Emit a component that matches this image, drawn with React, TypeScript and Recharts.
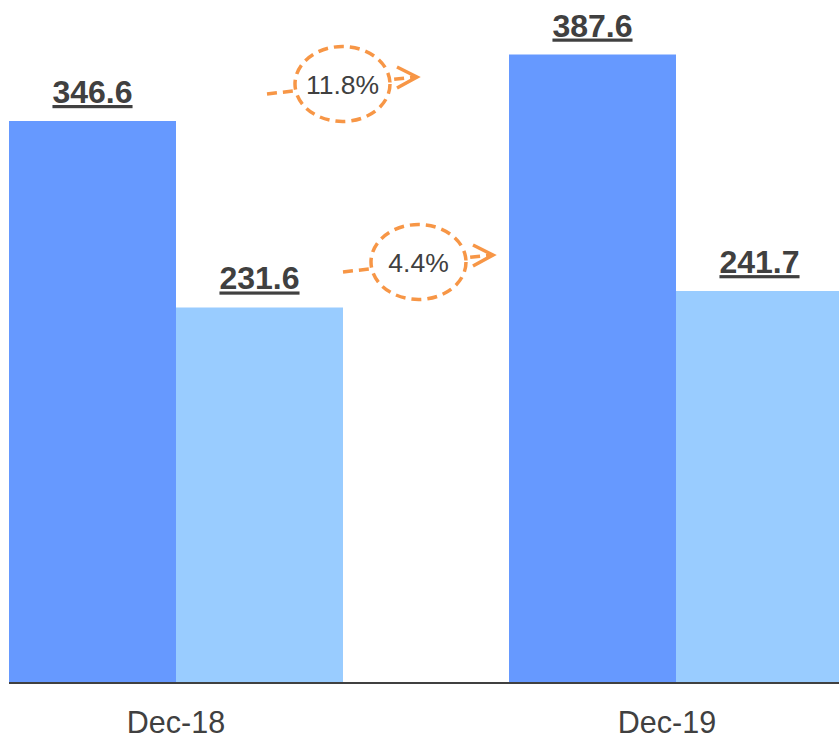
import React from 'react';
import { BarChart, Bar, XAxis, YAxis, LabelList } from 'recharts';

const categories = ['Dec-18', 'Dec-19'];
const seriesA = [346.6, 387.6];
const seriesB = [231.6, 241.7];
const growthLabels = ['11.8%', '4.4%'];

const data = categories.map((c, i) => ({ name: c, a: seriesA[i], b: seriesB[i] }));

const FONT = 'Arial, "Liberation Sans", sans-serif';
const TEXT = '#404040';
const ORANGE = '#F79646';

const ValueLabel = (props: any) => {
  const { x, y, width, value } = props;
  return (
    <text
      x={x + width / 2}
      y={y - 18}
      textAnchor="middle"
      fontFamily={FONT}
      fontSize={32}
      fontWeight="bold"
      fill={TEXT}
      style={{ textDecoration: 'underline' }}
    >
      {value}
    </text>
  );
};

const Tick = (props: any) => {
  const { x, y, payload, index } = props;
  const dx = index === categories.length - 1 ? -9 : 0;
  return (
    <text x={x + dx} y={y + 50} textAnchor="middle" fontFamily={FONT} fontSize={30.5} fill={TEXT}>
      {payload.value}
    </text>
  );
};

const GrowthArrow = ({ x, y, label }: { x: number; y: number; label: string }) => {
  const len = 150;
  const rise = -17;
  const tipX = x + len;
  const tipY = y + rise;
  const cx = x + 75.5;
  const cy = y - 10;
  return (
    <g>
      <line x1={x} y1={y} x2={tipX - 3} y2={tipY} stroke={ORANGE} strokeWidth={3.5} strokeDasharray="10 6" />
      <polyline
        points={`${tipX - 20},${tipY - 10} ${tipX},${tipY} ${tipX - 20},${tipY + 11}`}
        fill="none"
        stroke={ORANGE}
        strokeWidth={3.5}
        strokeLinejoin="miter"
      />
      <ellipse cx={cx} cy={cy} rx={47.5} ry={37.5} fill="#fff" stroke={ORANGE} strokeWidth={3.5} strokeDasharray="10 6" />
      <text x={cx} y={cy + 9.5} textAnchor="middle" fontFamily={FONT} fontSize={26.5} fill={TEXT}>
        {label}
      </text>
    </g>
  );
};

export default function App() {
  return (
    <div style={{ position: 'absolute', left: 0, top: 0, width: 839, height: 740, overflow: 'hidden', background: '#fff' }}>
      <BarChart
        width={926}
        height={740}
        data={data}
        margin={{ top: 2, right: 0, bottom: 0, left: 9 }}
        barCategoryGap="16.6%"
        barGap={0}
      >
        <XAxis
          dataKey="name"
          padding={{ left: -83, right: 0 }}
          axisLine={{ stroke: TEXT, strokeWidth: 2 }}
          tickLine={false}
          tickSize={0}
          tickMargin={0}
          height={57}
          tick={<Tick />}
          interval={0}
        />
        <YAxis hide domain={[0, 420]} />
        <Bar dataKey="a" fill="#6699FF" isAnimationActive={false}>
          <LabelList dataKey="a" content={<ValueLabel />} />
        </Bar>
        <Bar dataKey="b" fill="#99CCFF" isAnimationActive={false}>
          <LabelList dataKey="b" content={<ValueLabel />} />
        </Bar>
      </BarChart>
      <svg width={839} height={740} style={{ position: 'absolute', left: 0, top: 0, pointerEvents: 'none' }}>
        <GrowthArrow x={267} y={94} label={growthLabels[0]} />
        <GrowthArrow x={343} y={272} label={growthLabels[1]} />
      </svg>
    </div>
  );
}
